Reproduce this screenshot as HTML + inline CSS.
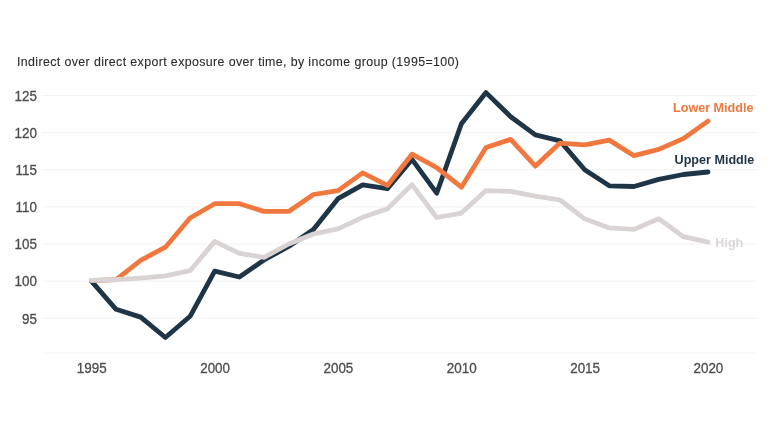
<!DOCTYPE html>
<html><head><meta charset="utf-8"><title>Indirect over direct export exposure</title>
<style>
html,body{margin:0;padding:0;background:#fff;}
body{width:780px;height:439px;overflow:hidden;font-family:"Liberation Sans",sans-serif;}
svg{display:block;filter:blur(0.45px);}
text{font-family:"Liberation Sans",sans-serif;}
.ax text{font-size:14.6px;fill:#4c4c4c;stroke:#4c4c4c;stroke-width:0.3px;}
.grid line{stroke:#f2f2f2;stroke-width:1;}
.ln{fill:none;stroke-width:4.8;stroke-linejoin:round;stroke-linecap:round;}
.lab{font-size:13.4px;font-weight:bold;}
</style></head><body>
<svg width="780" height="439" viewBox="0 0 780 439">
<rect width="780" height="439" fill="#fff"/>
<text x="17" y="66" font-size="12.4" fill="#2b2b2b" stroke="#2b2b2b" stroke-width="0.1" textLength="442" lengthAdjust="spacing">Indirect over direct export exposure over time, by income group (1995=100)</text>
<g class="grid"><line x1="42" x2="757" y1="95.6" y2="95.6"/><line x1="42" x2="757" y1="132.7" y2="132.7"/><line x1="42" x2="757" y1="169.8" y2="169.8"/><line x1="42" x2="757" y1="206.9" y2="206.9"/><line x1="42" x2="757" y1="244.0" y2="244.0"/><line x1="42" x2="757" y1="281.1" y2="281.1"/><line x1="42" x2="757" y1="318.2" y2="318.2"/><line x1="42" x2="757" y1="353" y2="353"/></g>
<g class="ax"><text transform="translate(37,100.9) scale(0.92,1)" text-anchor="end">125</text><text transform="translate(37,138.0) scale(0.92,1)" text-anchor="end">120</text><text transform="translate(37,175.1) scale(0.92,1)" text-anchor="end">115</text><text transform="translate(37,212.2) scale(0.92,1)" text-anchor="end">110</text><text transform="translate(37,249.3) scale(0.92,1)" text-anchor="end">105</text><text transform="translate(37,286.4) scale(0.92,1)" text-anchor="end">100</text><text transform="translate(37,323.5) scale(0.92,1)" text-anchor="end">95</text><text transform="translate(91.8,373) scale(0.92,1)" text-anchor="middle">1995</text><text transform="translate(215.1,373) scale(0.92,1)" text-anchor="middle">2000</text><text transform="translate(338.4,373) scale(0.92,1)" text-anchor="middle">2005</text><text transform="translate(461.8,373) scale(0.92,1)" text-anchor="middle">2010</text><text transform="translate(585.1,373) scale(0.92,1)" text-anchor="middle">2015</text><text transform="translate(708.4,373) scale(0.92,1)" text-anchor="middle">2020</text></g>
<polyline class="ln" stroke="#1d3547" points="91.4,281.1 116.1,309.3 140.7,317.1 165.4,337.5 190.1,316.3 214.7,271.1 239.4,277.0 264.0,260.0 288.7,246.5 313.4,229.5 338.0,198.7 362.7,184.9 387.4,188.7 412.0,159.4 436.7,193.2 461.4,123.8 486.0,92.6 510.7,116.7 535.4,134.9 560.0,140.9 584.7,169.8 609.3,185.8 634.0,186.5 658.7,179.4 683.3,174.5 708.0,172.0"/>
<polyline class="ln" stroke="#f0783f" points="91.4,280.7 116.1,279.6 140.7,260.3 165.4,247.2 190.1,218.0 214.7,203.7 239.4,203.7 264.0,211.4 288.7,211.4 313.4,194.5 338.0,190.6 362.7,172.9 387.4,185.4 412.0,154.2 436.7,167.6 461.4,187.2 486.0,147.5 510.7,139.4 535.4,166.1 560.0,143.1 584.7,144.9 609.3,140.1 634.0,155.7 658.7,149.4 683.3,138.6 708.0,121.1"/>
<polyline class="ln" stroke="#d9d3d3" points="91.4,280.4 116.1,279.6 140.7,278.1 165.4,275.9 190.1,270.7 214.7,241.4 239.4,253.3 264.0,257.4 288.7,244.0 313.4,234.0 338.0,228.9 362.7,217.3 387.4,208.8 412.0,184.6 436.7,217.5 461.4,213.1 486.0,190.6 510.7,191.3 535.4,196.2 560.0,200.0 584.7,218.8 609.3,227.9 634.0,229.4 658.7,218.8 683.3,236.6 708.0,242.2"/>
<text class="lab" transform="translate(753.5,112) scale(0.94,1)" text-anchor="end" fill="#f0783f">Lower Middle</text>
<text class="lab" transform="translate(754.3,164) scale(0.94,1)" text-anchor="end" fill="#1d3547">Upper Middle</text>
<text class="lab" transform="translate(715.3,247.3) scale(0.94,1)" fill="#dcd7d7">High</text>
</svg>
</body></html>
